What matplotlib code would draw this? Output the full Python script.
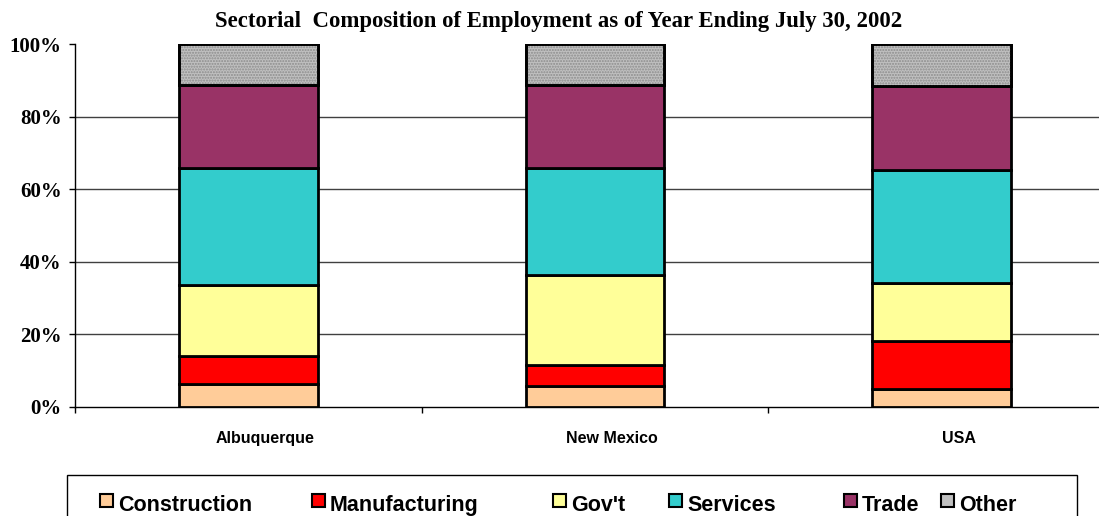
import matplotlib
matplotlib.use("Agg")
import matplotlib.pyplot as plt
from matplotlib import font_manager
from matplotlib.patches import Rectangle
from matplotlib.transforms import ScaledTranslation
import numpy as np

# ---------------- data ----------------
regions = ["Albuquerque", "New Mexico", "USA"]
sectors = ["Construction", "Manufacturing", "Gov't", "Services", "Trade", "Other"]
construction = [6.2, 5.8, 4.9]
manufacturing = [7.8, 5.8, 13.3]
govt = [19.6, 24.8, 15.9]
services = [32.2, 29.4, 31.2]
trade = [23.0, 22.9, 23.1]
other = [11.2, 11.3, 11.6]
y_ticks = [0, 20, 40, 60, 80, 100]
y_tick_labels = ["0%", "20%", "40%", "60%", "80%", "100%"]
title = "Sectorial  Composition of Employment as of Year Ending July 30, 2002"

colors = ["#FFCC99", "#FF0000", "#FFFF99", "#33CCCC", "#993366", "#C0C0C0"]

# fonts
names = {f.name for f in font_manager.fontManager.ttflist}
narrow = "Liberation Sans Narrow" if "Liberation Sans Narrow" in names else "Liberation Sans"
serif = "Liberation Serif"
sans = "Liberation Sans"

W, H = 1099, 516
fig = plt.figure(figsize=(W / 100, H / 100), dpi=100)
ax = fig.add_axes([75 / W, 1 - 407 / H, (1115 - 75) / W, (407 - 44) / H])

x = np.arange(len(regions))
series = [construction, manufacturing, govt, services, trade, other]
bottom = np.zeros(len(regions))
for vals, col in zip(series, colors):
    ax.bar(x, vals, 0.4, bottom=bottom, color=col, edgecolor="black",
           linewidth=2, zorder=3)
    if col == colors[-1]:
        # dotted texture on "Other"
        ax.bar(x, vals, 0.4, bottom=bottom, color="none", edgecolor="#8c8c8c",
               hatch="......", linewidth=0, zorder=4)
        ax.bar(x, vals, 0.4, bottom=bottom, color="none", edgecolor="black",
               linewidth=2, zorder=5)
    bottom += np.array(vals)

ax.set_xlim(-0.5, 2.5)
ax.set_ylim(0, 100)

# y axis
ax.set_yticks(y_ticks)
ax.set_yticklabels(y_tick_labels, fontfamily=serif, fontweight="bold", fontsize=15)
ax.tick_params(axis="y", direction="out", length=4.5, width=1, pad=5)
ax.grid(axis="y", color="#404040", linewidth=1, zorder=0)
ax.get_ygridlines()[-1].set_visible(False)
ax.get_ygridlines()[0].set_visible(False)

# x axis: ticks at category boundaries, labels at centers
ax.set_xticks([-0.5, 0.5, 1.5, 2.5])
ax.set_xticklabels([])
ax.set_xticks(x, minor=True)
ax.set_xticklabels(regions, minor=True, fontfamily=sans, fontweight="bold", fontsize=11.5)
ax.tick_params(axis="x", which="major", direction="out", length=4, width=1)
ax.tick_params(axis="x", which="minor", length=0, pad=17.5)
off = ScaledTranslation(17 / 100, 0, fig.dpi_scale_trans)
for lbl in ax.get_xticklabels(minor=True):
    lbl.set_transform(lbl.get_transform() + off)

for s in ["top", "right"]:
    ax.spines[s].set_visible(False)
for s in ["left", "bottom"]:
    ax.spines[s].set_color("black")
    ax.spines[s].set_linewidth(1)
ax.set_axisbelow(True)

fig.text(559 / W, 1 - 22 / H, title, ha="center", va="center",
         fontfamily=serif, fontweight="bold", fontsize=16.4)

# legend box (manual layout, bottom is cut off like the original)
fig.patches.append(Rectangle((67 / W, 1 - 540 / H), (1077 - 67) / W, (540 - 475) / H,
                             transform=fig.transFigure, facecolor="white",
                             edgecolor="black", linewidth=1))
marker_x = [100, 312, 553, 669, 844, 941]
for mx, name, col in zip(marker_x, sectors, colors):
    fig.patches.append(Rectangle((mx / W, 1 - 507 / H), 13 / W, 13 / H,
                                 transform=fig.transFigure, facecolor=col,
                                 edgecolor="black", linewidth=1.5))
    fig.text((mx + 18) / W, 1 - 511 / H, name, ha="left", va="baseline",
             fontfamily=narrow, fontweight="bold", fontsize=15.5)

fig.savefig("out.png", dpi=100)
